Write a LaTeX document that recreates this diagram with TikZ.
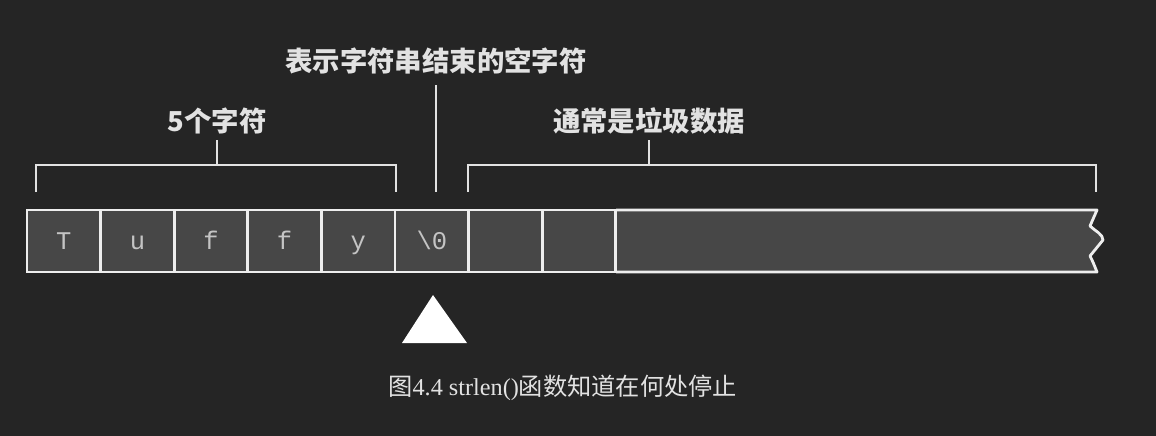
\documentclass[tikz,border=0pt]{standalone}
\usepackage{fontspec}
\setmainfont{Liberation Serif}
\setmonofont{Liberation Mono}
\newfontfamily\cjk{Noto Sans CJK SC}
\usepackage{tikz}
\usetikzlibrary{positioning}

\definecolor{bgcol}{HTML}{252525}
\definecolor{cellfill}{HTML}{474747}
\definecolor{edgecol}{HTML}{EEEEEE}
\definecolor{glyphcol}{HTML}{C4C4C4}
\definecolor{labelcol}{HTML}{E2E2E2}

\tikzset{
  cellbox/.style={draw=edgecol, fill=cellfill, line width=1.6pt,
    minimum width=1.472cm, minimum height=1.24cm, inner sep=0pt, outer sep=0pt,
    text height=0.97em, text depth=0.03em,
    text=glyphcol, font=\ttfamily\fontsize{14.5}{15}\selectfont},
  bracket/.style={draw=labelcol, line width=1.1pt},
  brlabel/.style={text=labelcol, inner sep=3pt, font=\cjk\bfseries\fontsize{15.6}{17}\selectfont},
}

\begin{document}
\begin{tikzpicture}[x=0.02cm,y=-0.02cm]

  % backdrop
  \fill[bgcol] (0,0) rectangle (1156,436);

  % unused tail of the array, torn at the right end
  \draw[draw=edgecol, fill=cellfill, line width=1.6pt, line join=round]
    (616,210) -- (1097,210) -- (1090,226)
    .. controls (1095,231) and (1103,234) .. (1103,240)
    -- (1090,256) .. controls (1093,262) .. (1097,272) -- (616,272);

  % the string cells
  \foreach \ch [count=\i] in {T,u,f,f,y,{\textbackslash0},{},{}}{
    \pgfmathsetmacro\cx{27+73.6*(\i-0.5)}
    \node[cellbox] (c\i) at (\cx,241) {\ch};
  }

  % bracket over the five characters
  \draw[bracket] (36,192) -- (36,165) -- (396,165) -- (396,192);
  \node[brlabel] (five) at (217,121) {5个字符};
  \draw[bracket] (217,165) -- (five.south);

  % marker for the terminating null
  \node[brlabel] (nul) at (436,61) {表示字符串结束的空字符};
  \draw[bracket, shorten <=3pt] (nul.south) -- (436,192);

  % bracket over the rest
  \draw[bracket] (468,192) -- (468,165) -- (1096,165) -- (1096,192);
  \node[brlabel] (junk) at (649,121) {通常是垃圾数据};
  \draw[bracket] (649,165) -- (junk.south);

  % pointer
  \fill[white] (433,295) -- (402,343) -- (467,343) -- cycle;

  % caption
  \node[anchor=west, text=labelcol, inner sep=0pt, font=\fontsize{13.8}{15}\selectfont]
    (cap) at (388,388) {{\cjk 图}4.4 strlen(){\cjk 函数知道在何处停止}};

\end{tikzpicture}
\end{document}
